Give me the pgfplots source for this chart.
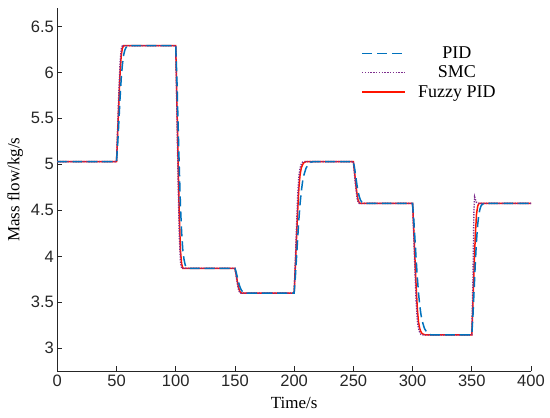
\documentclass[border=0pt]{standalone}
\usepackage{pgfplots}
\pgfplotsset{compat=1.18}
\usepackage{fontspec}
\setmainfont{Liberation Serif}
\newfontfamily\arialf{Liberation Sans}
\definecolor{pidblue}{RGB}{0,114,189}
\definecolor{smcpurple}{RGB}{126,47,142}
\definecolor{fuzred}{RGB}{255,20,0}
\definecolor{axgray}{RGB}{38,38,38}
\begin{document}
\begin{tikzpicture}[x=1pt,y=1pt]
\path[use as bounding box] (-57.3,-46.7) rectangle (492.7,371.3);
\begin{axis}[
  at={(0,0)}, anchor=south west,
  scale only axis, width=473.7pt, height=363.3pt,
  xmin=0, xmax=400, ymin=2.75, ymax=6.7,
  xtick={0,50,...,400}, ytick={3,3.5,4,4.5,5,5.5,6,6.5},
  axis x line*=bottom, axis y line*=left,
  axis line style={-, axgray, line width=0.6pt},
  tick align=inside, major tick length=5pt,
  tick style={axgray, line width=0.6pt},
  /pgf/number format/assume math mode=true,
  tick label style={font=\arialf\fontsize{16.5}{18}\selectfont, text=axgray},
  xlabel={Time/s}, ylabel={Mass flow/kg/s},
  label style={font=\fontsize{17}{19}\selectfont},
  xlabel style={yshift=-4pt},
  ylabel style={yshift=1pt},
  reverse legend,
  legend cell align=center,
  legend style={draw=none, fill=none, at={(0.635,0.905)}, anchor=north west,
    font=\fontsize{18}{20}\selectfont, row sep=2pt,
    /tikz/every odd column/.append style={column sep=10pt}},
]
\addplot[color=fuzred, line width=1.5pt,
  legend image code/.code={\draw[fuzred, line width=1.5pt] (0pt,0pt) -- (43pt,0pt);}] coordinates {
(0,5.03) (50,5.03) (51,5.345) (52,5.685) (53,5.988) (54,6.189) (55,6.265) (56,6.29) (100,6.29) (101,5.685) (102,5.032) (103,4.451) (104,4.064) (105,3.918) (106,3.87) (150,3.87) (151,3.8025) (152,3.730) (153,3.665) (154,3.622) (155,3.605) (156,3.60) (200,3.60) (201,3.886) (202,4.201) (203,4.501) (204,4.744) (205,4.887) (206,4.9585) (207,4.994) (208,5.016) (210,5.03) (250,5.03) (251,4.916) (252,4.793) (253,4.684) (254,4.611) (255,4.584) (256,4.575) (300,4.575) (301,4.289) (302,3.974) (303,3.674) (304,3.431) (305,3.288) (306,3.2165) (307,3.181) (308,3.16) (310,3.148) (312,3.145) (350,3.145) (351,3.5025) (352,3.889) (353,4.232) (354,4.461) (355,4.546) (356,4.575) (400,4.575)
};
\addlegendentry{Fuzzy PID}
\addplot[color=smcpurple, line width=1.4pt, dash pattern=on 1.3pt off 1.3pt,
  legend image code/.code={\foreach \k in {0,...,15}{\draw[smcpurple, line width=1.5pt] (\k*2.8pt,0pt) -- ++(1.4pt,0pt);}}] coordinates {
(0,5.03) (50,5.03) (51,5.408) (52,5.786) (53,6.101) (54,6.252) (55,6.29) (100,6.29) (101,5.564) (102,4.838) (103,4.233) (104,3.943) (105,3.87) (150,3.87) (151,3.789) (152,3.708) (153,3.6405) (154,3.608) (155,3.60) (200,3.60) (201,3.943) (202,4.315) (203,4.658) (204,4.873) (205,4.9585) (206,5.001) (207,5.023) (208,5.03) (250,5.03) (251,4.8935) (252,4.757) (253,4.643) (254,4.589) (255,4.575) (300,4.575) (301,4.232) (302,3.86) (303,3.517) (304,3.302) (305,3.2165) (306,3.174) (307,3.152) (308,3.145) (350,3.145) (351,3.75) (351.8,4.50) (352.4,4.645) (353.1,4.615) (354,4.588) (355,4.578) (356,4.575) (400,4.575)
};
\addlegendentry{SMC}
\addplot[color=pidblue, line width=1.5pt, dash pattern=on 10pt off 5pt,
  legend image code/.code={\draw[pidblue, line width=1.5pt] (0pt,0pt) -- (10pt,0pt) (15pt,0pt) -- (25pt,0pt) (30pt,0pt) -- (40pt,0pt);}] coordinates {
(0,5.03) (50,5.03) (51,5.219) (52,5.471) (53,5.723) (54,5.937) (55,6.088) (56,6.189) (57,6.240) (58,6.271) (60,6.29) (100,6.29) (101,5.927) (102,5.443) (103,4.959) (104,4.548) (105,4.257) (106,4.064) (107,3.967) (108,3.906) (110,3.87) (150,3.87) (151,3.8295) (152,3.7755) (153,3.7215) (154,3.676) (155,3.643) (156,3.622) (157,3.611) (158,3.604) (160,3.60) (200,3.60) (201,3.772) (202,3.986) (203,4.201) (204,4.401) (205,4.572) (206,4.701) (207,4.801) (208,4.873) (210,4.9585) (212,5.001) (214,5.023) (216,5.03) (250,5.03) (251,4.962) (252,4.871) (253,4.780) (254,4.702) (255,4.648) (256,4.611) (257,4.593) (258,4.582) (260,4.575) (300,4.575) (301,4.403) (302,4.189) (303,3.974) (304,3.774) (305,3.603) (306,3.474) (307,3.374) (308,3.302) (310,3.2165) (312,3.174) (314,3.152) (316,3.145) (350,3.145) (351,3.3595) (352,3.6455) (353,3.9315) (354,4.1745) (355,4.346) (356,4.461) (357,4.518) (358,4.554) (360,4.575) (400,4.575)
};
\addlegendentry{PID}
\end{axis}
\end{tikzpicture}
\end{document}
